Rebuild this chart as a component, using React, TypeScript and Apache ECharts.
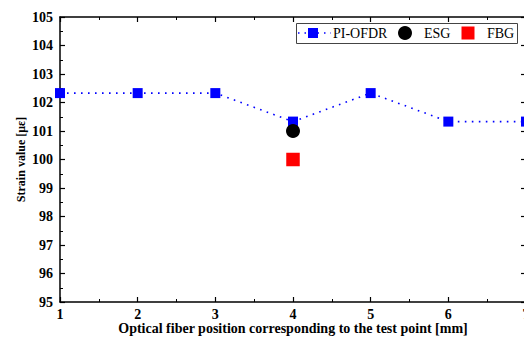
import React, { useEffect, useRef } from "react";
import * as echarts from "echarts";

const positions = [1, 2, 3, 4, 5, 6, 7];
const piOfdr = [102.33, 102.33, 102.33, 101.33, 102.33, 101.33, 101.33];
const esgPos = [4];
const esgVal = [101.0];
const fbgPos = [4];
const fbgVal = [100.0];
const legendNames = ["PI-OFDR", "ESG", "FBG"];

const FONT = "'Liberation Serif', 'Times New Roman', serif";
const BLUE = "#0000ff";

export default function App() {
  const ref = useRef<HTMLDivElement>(null);
  useEffect(() => {
    const chart = echarts.init(ref.current!, null, { renderer: "svg" });
    const axisCommon = {
      axisLine: { show: true, lineStyle: { color: "#000", width: 1.5 } },
      axisTick: { show: true, inside: true, length: 5, lineStyle: { color: "#000", width: 1.2 } },
      minorTick: { show: true, splitNumber: 2, length: 3, lineStyle: { color: "#000", width: 1 } },
      splitLine: { show: false },
    };
    const ly = 33;
    const legendText = (x: number, t: string) => ({
      type: "text",
      x,
      y: ly,
      style: { text: t, font: "14px " + FONT, fill: "#000", textVerticalAlign: "middle", verticalAlign: "middle" },
      z: 10,
    });
    chart.setOption({
      animation: false,
      backgroundColor: "#fff",
      grid: { left: 60, top: 17, width: 466, height: 285, outerBoundsMode: "none", containLabel: false },
      graphic: [
        {
          type: "rect",
          shape: { x: 296.5, y: 23.5, width: 221, height: 20 },
          style: { fill: "#fff", stroke: "#444", lineWidth: 1 },
          z: 9,
        },
        {
          type: "line",
          shape: { x1: 298, y1: ly, x2: 331, y2: ly },
          style: { stroke: BLUE, lineWidth: 1.5, lineDash: [1.5, 5] },
          z: 10,
        },
        {
          type: "rect",
          shape: { x: 308, y: ly - 5, width: 10, height: 10 },
          style: { fill: BLUE },
          z: 11,
        },
        legendText(333, legendNames[0]),
        {
          type: "circle",
          shape: { cx: 405, cy: ly, r: 7 },
          style: { fill: "#000" },
          z: 10,
        },
        legendText(424, legendNames[1]),
        {
          type: "rect",
          shape: { x: 461.5, y: ly - 6.5, width: 13, height: 13 },
          style: { fill: "#ff0000" },
          z: 10,
        },
        legendText(487, legendNames[2]),
      ],
      xAxis: [
        {
          type: "value",
          min: 1,
          max: 7,
          interval: 1,
          position: "bottom",
          ...axisCommon,
          axisLabel: { fontFamily: FONT, fontWeight: "bold", fontSize: 14, color: "#000", margin: 5 },
          name: "Optical fiber position corresponding to the test point [mm]",
          nameLocation: "middle",
          nameGap: 19,
          nameMoveOverlap: false,
          nameTextStyle: { fontFamily: FONT, fontWeight: "bold", fontSize: 14, color: "#000" },
        },
        {
          type: "value",
          min: 1,
          max: 7,
          interval: 1,
          position: "top",
          ...axisCommon,
          axisLabel: { show: false },
        },
      ],
      yAxis: [
        {
          type: "value",
          min: 95,
          max: 105,
          interval: 1,
          position: "left",
          ...axisCommon,
          axisLabel: { fontFamily: FONT, fontWeight: "bold", fontSize: 14, color: "#000", margin: 7 },
          name: "Strain value [με]",
          nameLocation: "middle",
          nameGap: 33,
          nameMoveOverlap: false,
          nameTextStyle: { fontFamily: FONT, fontWeight: "bold", fontSize: 12, color: "#000" },
        },
        {
          type: "value",
          min: 95,
          max: 105,
          interval: 1,
          position: "right",
          ...axisCommon,
          minorTick: { show: false },
          axisLabel: { show: false },
        },
      ],
      series: [
        {
          name: "PI-OFDR",
          type: "line",
          data: positions.map((p, i) => [p, piOfdr[i]]),
          symbol: "rect",
          symbolSize: 10,
          itemStyle: { color: BLUE, opacity: 1 },
          lineStyle: { color: BLUE, width: 1.6, type: [1.6, 5.4] },
          z: 3,
        },
        {
          name: "ESG",
          type: "scatter",
          data: esgPos.map((p, i) => [p, esgVal[i]]),
          symbol: "circle",
          symbolSize: 14,
          itemStyle: { color: "#000", opacity: 1 },
          z: 4,
        },
        {
          name: "FBG",
          type: "scatter",
          data: fbgPos.map((p, i) => [p, fbgVal[i]]),
          symbol: "rect",
          symbolSize: 13.5,
          itemStyle: { color: "#ff0000", opacity: 1 },
          z: 4,
        },
      ],
    });
    return () => chart.dispose();
  }, []);
  return (
    <div
      ref={ref}
      style={{ position: "absolute", left: 0, top: 0, width: 524, height: 337 }}
    />
  );
}
